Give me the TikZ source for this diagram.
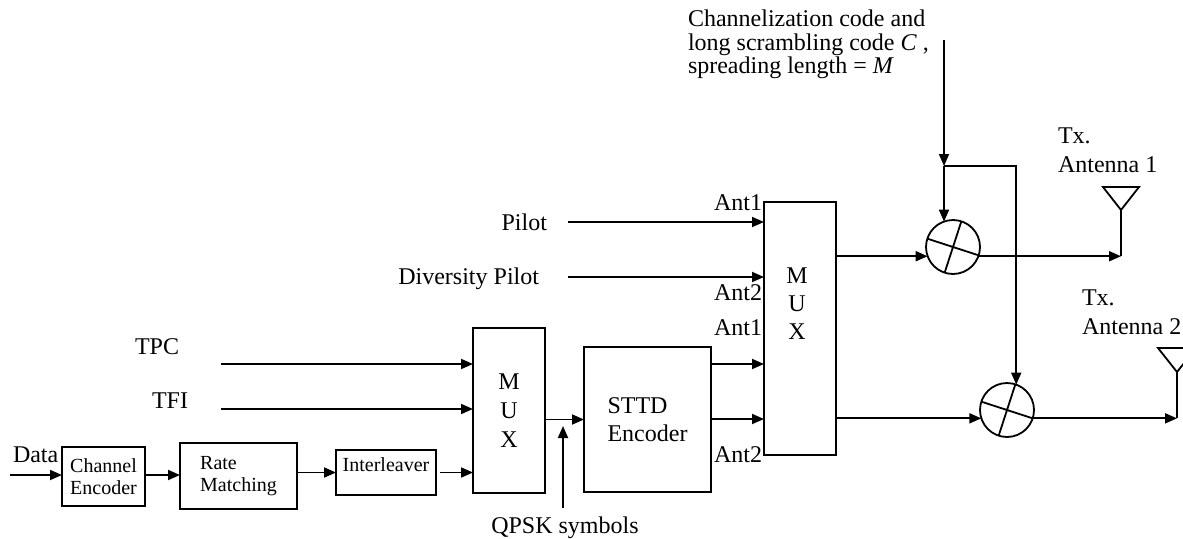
\documentclass[tikz,border=0pt]{standalone}
\usepackage{fontspec}
\setmainfont{Liberation Serif}
\usetikzlibrary{arrows.meta}
\begin{document}
\begin{tikzpicture}[x=1pt,y=-1pt,line width=1.8pt,
  every node/.style={inner sep=0pt, outer sep=0pt},
  big/.style={font=\fontsize{24}{28}\selectfont},
  small/.style={font=\fontsize{20}{22}\selectfont},
  blk/.style={draw, anchor=north west},
  arr/.style={-{Triangle[length=12pt,width=10pt]}},
  mixer/.style={draw, circle, minimum size=54pt},
]
\useasboundingbox (0,0) rectangle (1183,538);

% blocks
\node[blk, minimum width=83pt, minimum height=59pt, small, align=left] (ce) at (62,447) {Channel\\Encoder};
\node[blk, minimum width=117pt, minimum height=66pt, small, align=left] (rm) at (180,443) {Rate\\Matching};
\node[blk, minimum width=100pt, minimum height=45pt, small, text depth=15pt] (il) at (336,450) {Interleaver};
\node[blk, minimum width=72pt, minimum height=165pt, align=center, font=\fontsize{24}{29}\selectfont] (mux1) at (473,328) {M\\U\\X};
\node[blk, minimum width=127pt, minimum height=145pt, big, align=left] (sttd) at (584,347) {STTD\\Encoder};
\node[blk, minimum width=72pt, minimum height=253pt] (mux2) at (764,202) {};
\node[align=center, font=\fontsize{24}{28}\selectfont] (muxt) at (797,304) {M\\U\\X};

% mixers
\node[mixer] (mx1) at (953,247) {};
\node[mixer] (mx2) at (1007,410) {};
\draw (mx1.162) -- (mx1.342) (mx1.72) -- (mx1.252);
\draw (mx2.162) -- (mx2.342) (mx2.72) -- (mx2.252);

% labels
\node[big, anchor=base west] (data) at (13,462) {Data};
\node[big, anchor=base west] (tpc) at (135,354) {TPC};
\node[big, anchor=base west] (tfi) at (152,408) {TFI};
\node[big, anchor=base east] (pilot) at (547,230) {Pilot};
\node[big, anchor=base east] (dpilot) at (539,284) {Diversity Pilot};
\node[big, anchor=base] (qpsk) at (565,533) {QPSK symbols};
\node[big, anchor=base east] (a1t) at (762,210) {Ant1};
\node[big, anchor=base east] (a2t) at (762,300) {Ant2};
\node[big, anchor=base east] (a1b) at (762,335) {Ant1};
\node[big, anchor=base east] (a2b) at (762,462) {Ant2};
\node[big, anchor=base west] (c1) at (688,27) {Channelization code and};
\node[big, anchor=base west] (c2) at (688,50) {long scrambling code \textit{C} ,};
\node[big, anchor=base west] (c3) at (688,73) {spreading length = \textit{M}};
\node[big, anchor=base west] (tx1a) at (1058,143) {Tx.};
\node[big, anchor=base west] (tx1b) at (1058,172) {Antenna 1};
\node[big, anchor=base west] (tx2a) at (1082,305) {Tx.};
\node[big, anchor=base west] (tx2b) at (1082,334) {Antenna 2};

% coordinates
\coordinate (din) at (10,475);
\coordinate (tpcs) at (221,364);
\coordinate (tfis) at (221,409);
\coordinate (qs) at (563,508);
\coordinate (qe) at (563,426);
\coordinate (ps) at (568,222);
\coordinate (dps) at (568,277);
\coordinate (s1) at (711,364);
\coordinate (s2) at (711,419);
\coordinate (ctop) at (944,40);
\coordinate (cj) at (944,166);
\coordinate (ant1) at (1121,210);
\coordinate (ant2) at (1177,372);

% connectors
\draw[arr] (din) -- (din -| ce.west);
\draw[arr] (ce.east |- din) -- (rm.west |- din);
\draw[arr] (rm.east |- il.west) -- (il.west);
\draw[arr] ([xshift=4pt]il.east) -- (il.east -| mux1.west);
\draw[arr] (tpcs) -- (tpcs -| mux1.west);
\draw[arr] (tfis) -- (tfis -| mux1.west);
\draw[arr] (mux1.east |- sttd.west) -- (sttd.west);
\draw[arr] (qs) -- (qe);
\draw[arr] (s1) -- (s1 -| mux2.west);
\draw[arr] (s2) -- (s2 -| mux2.west);
\draw[arr] (ps) -- (ps -| mux2.west);
\draw[arr] (dps) -- (dps -| mux2.west);
\draw[arr] (mux2.east |- mx1.200) -- (mx1.200);
\draw[arr] (mux2.east |- mx2.198) -- (mx2.198);
\draw[arr] (ctop) -- (cj);
\draw[arr] (cj) -- (cj |- mx1.110);
\draw[arr] (cj) -| (mx2.70);
\draw[arr] (mx1.340) -- (mx1.340 -| ant1);
\draw[arr] (mx2.342) -- (mx2.342 -| ant2);

% antennas
\draw (ant1) -- (mx1.340 -| ant1);
\draw (ant2) -- (mx2.342 -| ant2);
\draw (1103,187) -- (1139,187) -- (ant1) -- cycle;
\draw (1158,348) -- (1196,348) -- (ant2) -- cycle;
\end{tikzpicture}
\end{document}
